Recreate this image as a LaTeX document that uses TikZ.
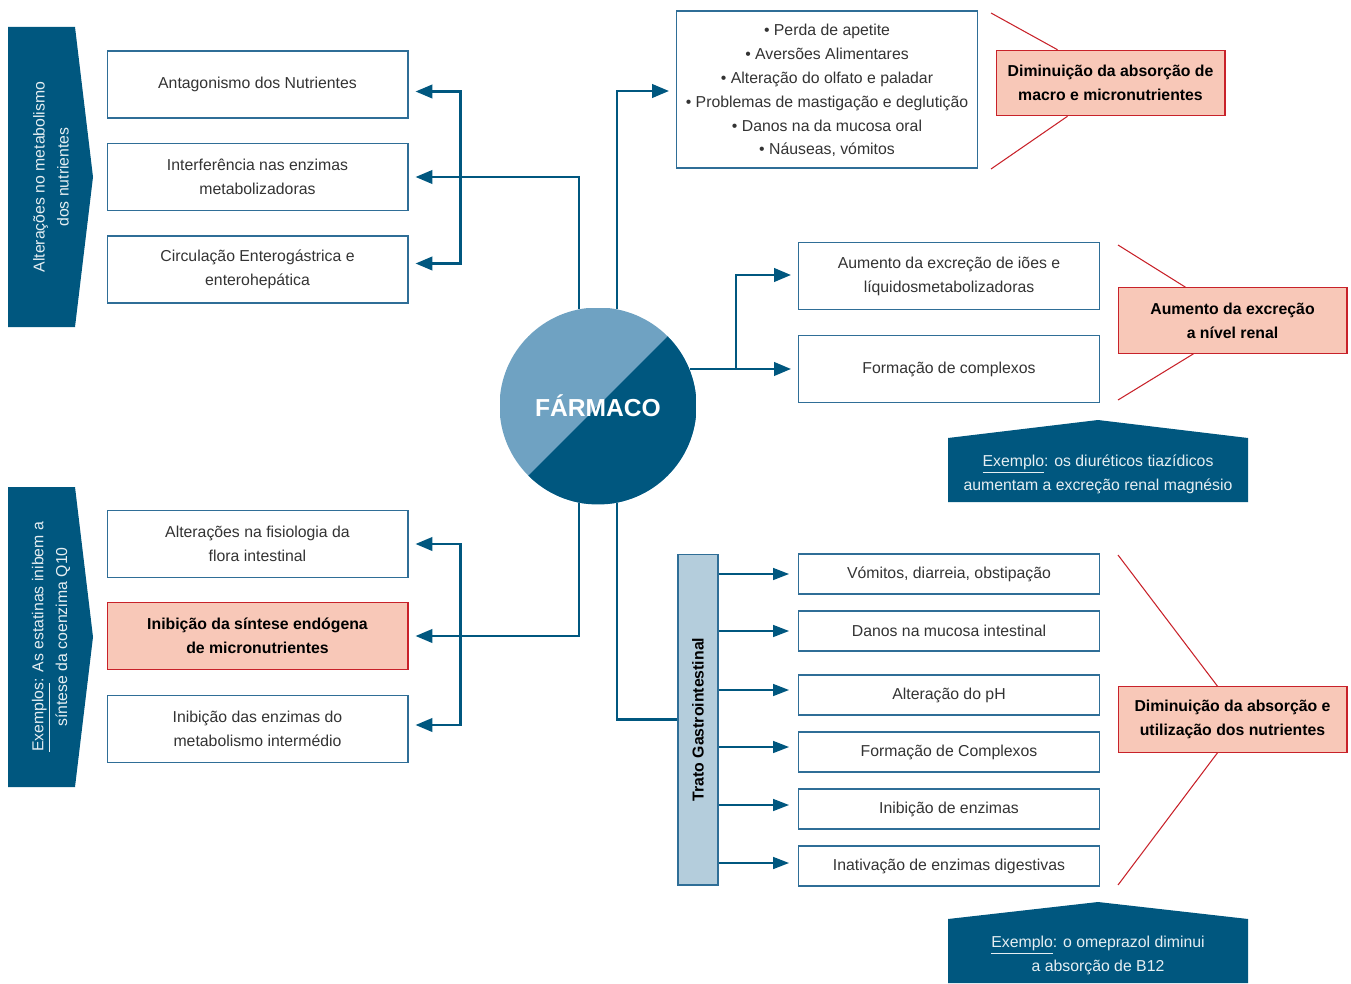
\documentclass[tikz,border=0pt]{standalone}
\usepackage{fontspec}
\setmainfont{Liberation Sans}
\usetikzlibrary{arrows.meta, positioning, calc}
\definecolor{farmdark}{HTML}{00577F}
\definecolor{farmlight}{HTML}{6FA2C2}
\definecolor{tratofill}{HTML}{B4CDDC}
\definecolor{pinkfill}{HTML}{F8C8B8}
\definecolor{redline}{HTML}{C8222A}
\definecolor{boxline}{HTML}{2F6E97}
\newcommand{\txt}{\fontsize{9}{13.6}\selectfont}

\begin{document}
\begin{tikzpicture}[x=0.02cm, y=-0.02cm, font=\txt,
    box/.style={draw=boxline, line width=0.6pt, minimum width=6.02cm,
                minimum height=1.34cm, align=center, inner sep=2pt,
                text=black!80},
    sbox/.style={box, minimum height=0.8cm},
    pbox/.style={draw=redline, fill=pinkfill, line width=0.6pt,
                 minimum width=4.58cm, minimum height=1.31cm, align=center,
                 font=\txt\bfseries, text=black},
    arr/.style={-{Triangle[length=0.34cm, width=0.27cm]}, line width=1.5pt,
                draw=farmdark, shorten >=0.14cm},
    tarr/.style={-{Triangle[length=0.32cm, width=0.24cm]}, line width=0.9pt,
                 draw=farmdark, shorten >=0.18cm},
    link/.style={line width=1.5pt, draw=farmdark},
    redl/.style={draw=redline, line width=0.6pt},
    bantext/.style={text=white!90!farmdark, align=center, font=\txt},
]
\useasboundingbox (0,0) rectangle (1351,983);

% side banners
\fill[farmdark] (8,27) -- (75,27) -- (93,177) -- (75,327) -- (8,327) -- cycle;
\node[bantext, rotate=90] (ban1) at (51,177)
    {Alterações no metabolismo\\dos nutrientes};
\fill[farmdark] (8,487) -- (75,487) -- (93,637) -- (75,787) -- (8,787) -- cycle;
\node[bantext, rotate=90] (ban2) at (51,637)
    {\underline{Exemplos}: As estatinas inibem a\\síntese da coenzima Q10};

% left boxes
\node[box] (antag) at (257.5,84.5) {Antagonismo dos Nutrientes};
\node[box] (interf) at (257.5,177) {Interferência nas enzimas\\metabolizadoras};
\node[box] (circ) at (257.5,269.5) {Circulação Enterogástrica e\\enterohepática};
\node[box] (fisio) at (257.5,544) {Alterações na fisiologia da\\flora intestinal};
\node[box, draw=redline, fill=pinkfill, font=\txt\bfseries, text=black] (inib)
    at (257.5,636) {Inibição da síntese endógena\\de micronutrientes};
\node[box] (enzim) at (257.5,729) {Inibição das enzimas do\\metabolismo intermédio};

% centre
\node[circle, inner sep=0pt, minimum size=3.94cm, text=white,
      font=\fontsize{14}{16}\selectfont\bfseries,
      path picture={
        \fill[farmlight] (path picture bounding box.south west)
            rectangle (path picture bounding box.north east);
        \fill[farmdark] (path picture bounding box.south west)
            -- (path picture bounding box.south east)
            -- (path picture bounding box.north east) -- cycle;
      }] (farm) at (598,406) {FÁRMACO};

% top box
\node[box, minimum height=3.14cm, text depth=0pt] (sintomas) at (827,89.5)
    {• Perda de apetite\\• Aversões Alimentares\\• Alteração do olfato e paladar\\
     • Problemas de mastigação e deglutição\\• Danos na da mucosa oral\\• Náuseas, vómitos};
\node[pbox] (dim1) at (1110.5,83) {Diminuição da absorção de\\macro e micronutrientes};

% middle right
\node[box] (ioes) at (949,276) {Aumento da excreção de iões e\\líquidosmetabolizadoras};
\node[box] (compl) at (949,369) {Formação de complexos};
\node[pbox] (excr) at (1232.5,320.5) {Aumento da excreção\\a nível renal};

\fill[farmdark] (948,438) -- (1098,420) -- (1248,438) -- (1248,502) -- (948,502) -- cycle;
\node[bantext] (ex1) at (1098,474)
    {\underline{Exemplo}: os diuréticos tiazídicos\\aumentam a excreção renal magnésio};

% gastrointestinal branch
\node[draw=boxline, fill=tratofill, line width=0.6pt, rotate=90,
      minimum width=6.62cm, minimum height=0.8cm, font=\txt\bfseries]
    (trato) at (698,719.5) {Trato Gastrointestinal};
\node[sbox] (vomit) at (949,574) {Vómitos, diarreia, obstipação};
\node[sbox] (mucosa) at (949,631) {Danos na mucosa intestinal};
\node[sbox] (ph) at (949,695) {Alteração do pH};
\node[sbox] (complx) at (949,752) {Formação de Complexos};
\node[sbox] (enzin) at (949,809) {Inibição de enzimas};
\node[sbox] (inativ) at (949,866) {Inativação de enzimas digestivas};
\node[pbox] (dim3) at (1232.5,719.5) {Diminuição da absorção e\\utilização dos nutrientes};

\fill[farmdark] (948,919) -- (1098,902) -- (1248,919) -- (1248,983) -- (948,983) -- cycle;
\node[bantext] (ex2) at (1098,955.5)
    {\underline{Exemplo}: o omeprazol diminui\\a absorção de B12};

% connectors
\draw[arr] (farm.101) |- (interf.east);
\coordinate (jl) at ($(interf.east)+(52,0)$);
\draw[arr] (jl) |- ($(antag.east)+(0,7)$);
\draw[arr] (jl) |- ($(circ.east)+(0,-6)$);

\draw[arr] (farm.259) |- (inib.east);
\coordinate (jl2) at ($(inib.east)+(52,0)$);
\draw[arr] (jl2) |- (fisio.east);
\draw[arr] (jl2) |- ($(enzim.east)+(0,-4)$);

\draw[arr] (farm.79) |- ($(sintomas.west)+(0,1.5)$);
\draw[arr] (farm.22) -- (farm.22 -| compl.west);
\coordinate (jr) at ($(compl.west)+(-62,0)$);
\draw[arr] (jr) |- ($(ioes.west)+(0,-1)$);

% trato is rotated: its north side faces left, its south side right
\draw[link] (farm.281) |- (trato.north);
\foreach \b/\d in {vomit/0, mucosa/0, ph/-5, complx/-5, enzin/-4, inativ/-3}
  \draw[tarr] ($(\b.west -| trato.south)+(0,\d)$) -- ($(\b.west)+(0,\d)$);

% red brackets
\coordinate (r1a) at (991,13);
\coordinate (r1b) at (991,169);
\draw[redl] (r1a) -- ($(dim1.north west)+(62,0)$);
\draw[redl] (r1b) -- ($(dim1.south west)+(72,0)$);
\coordinate (r2a) at (1118,245);
\coordinate (r2b) at (1118,400);
\draw[redl] (r2a) -- ($(excr.north west)+(68,0)$);
\draw[redl] (r2b) -- ($(excr.south west)+(76,0)$);
\coordinate (r3a) at (1118,555);
\coordinate (r3b) at (1118,885);
\draw[redl] (r3a) -- ($(dim3.north west)+(100,0)$);
\draw[redl] (r3b) -- ($(dim3.south west)+(100,0)$);

\end{tikzpicture}
\end{document}
